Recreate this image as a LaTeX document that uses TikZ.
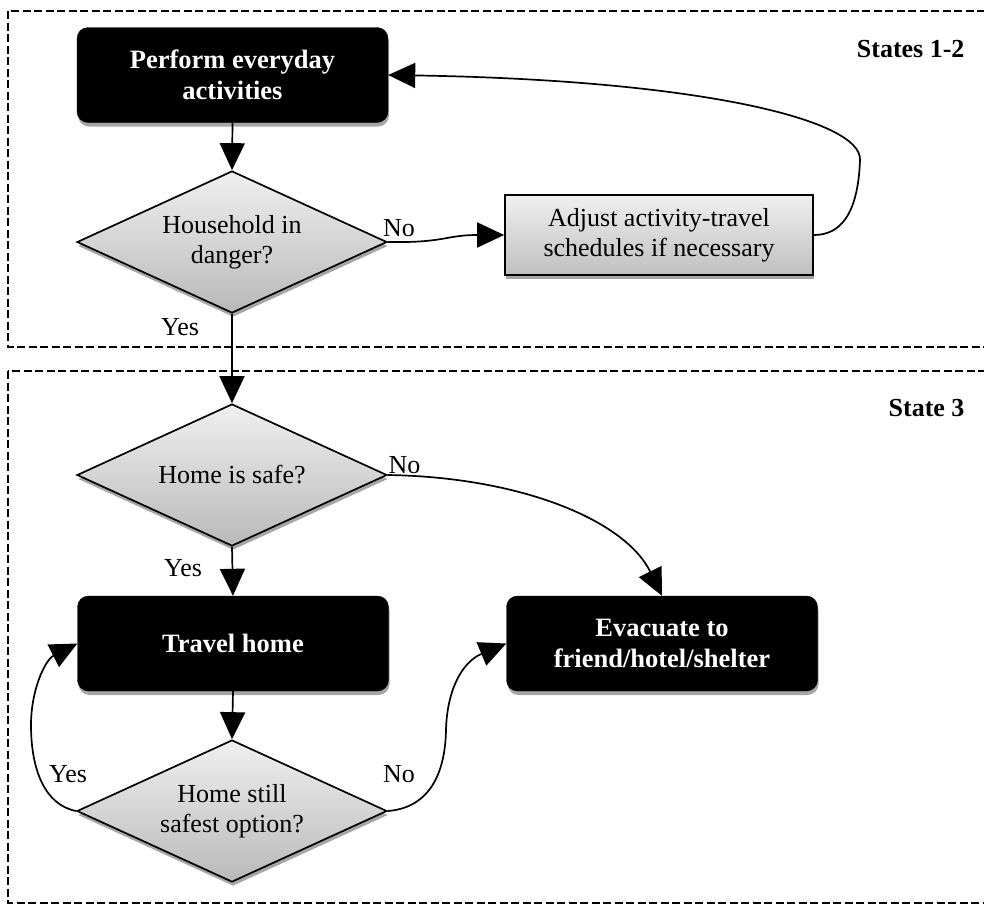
\documentclass[tikz,border=0pt]{standalone}
\usepackage{fontspec}
\setmainfont{Liberation Serif}
\usetikzlibrary{shapes.geometric,arrows.meta,shadows}
\begin{document}
\begin{tikzpicture}[x=1pt,y=1pt,
  every node/.style={font=\fontsize{26}{30}\selectfont},
  shad/.style={drop shadow={shadow xshift=1pt, shadow yshift=-4pt, opacity=0.35, fill=black}},
  blk/.style={rectangle, rounded corners=11pt, fill=black, draw=black, text=white,
    font=\fontsize{26.5}{31}\selectfont\bfseries, align=center,
    minimum width=311pt, minimum height=95pt, inner sep=0pt, shad},
  dec/.style={diamond, draw=black, line width=1.7pt, top color=gray!12, bottom color=gray!55,
    aspect=2.18, minimum width=310pt, minimum height=142pt, inner sep=0pt, align=center, shad},
  gbox/.style={rectangle, draw=black, line width=1.7pt, top color=gray!12, bottom color=gray!50,
    minimum width=308pt, minimum height=80pt, inner sep=0pt, align=center, shad},
  frame/.style={draw=black, line width=1.8pt, dash pattern=on 8pt off 3.5pt},
  conn/.style={draw=black, line width=1.7pt, -{Triangle[length=27pt,width=25pt]}},
  lbl/.style={font=\fontsize{26}{30}\selectfont},
  ttl/.style={font=\fontsize{26}{30}\selectfont\bfseries}
]
\useasboundingbox (0,0) rectangle (984,-906);
\clip (0,0) rectangle (984,-906);

% frames
\draw[frame] (8,-11) rectangle (1000,-347);
\draw[frame] (8,-371) rectangle (1000,-903);

% titles
\node[ttl, anchor=base east] (t12) at (968,-57) {States 1-2};
\node[ttl, anchor=base east] (t3) at (968,-416) {State 3};

% nodes
\node[blk] (perf) at (232.5,-75) {Perform everyday\\activities};
\node[dec] (d1) at (232,-242) {Household in\\danger?};
\node[gbox] (adj) at (659,-235) {Adjust activity-travel\\schedules if necessary};
\node[dec] (d2) at (232,-475) {Home is safe?};
\node[blk] (travel) at (233,-643.5) {Travel home};
\node[blk] (evac) at (662,-643.5) {Evacuate to\\friend/hotel/shelter};
\node[dec] (d3) at (232,-811) {Home still\\safest option?};

% connectors
\draw[conn] (perf.south) -- (d1.north);
\draw[conn] (d1.east) .. controls (445,-243) and (445,-235) .. (adj.west);
\draw[conn] (adj.east) .. controls (840,-235) and (858,-215) .. (860,-160)
  .. controls (862,-120) and (700,-80) .. (perf.east);
\draw[conn] (d1.south) -- (d2.north);
\draw[conn] (d2.east) .. controls (520,-477) and (625,-520) .. (evac.north);
\draw[conn] (d2.south) -- (travel.north);
\draw[conn] (travel.south) -- (d3.north);
\draw[conn] (d3.west) .. controls (45,-805) and (31,-770) .. (31,-725)
  .. controls (31,-690) and (45,-660) .. (travel.west);
\draw[conn] (d3.east) .. controls (425,-808) and (445,-780) .. (446,-730)
  .. controls (447,-690) and (462,-662) .. (evac.west);

% labels
\node[lbl, anchor=base] (l1) at (399,-236) {No};
\node[lbl, anchor=base] (l2) at (180,-335) {Yes};
\node[lbl, anchor=base west] (l3) at (385,-473) {No};
\node[lbl, anchor=base] (l4) at (183,-576) {Yes};
\node[lbl, anchor=base] (l5) at (68,-782) {Yes};
\node[lbl, anchor=base] (l6) at (399,-782) {No};
\end{tikzpicture}
\end{document}
